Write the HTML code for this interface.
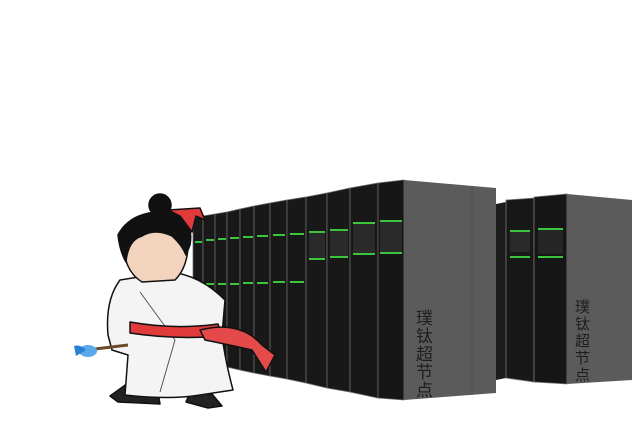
<!DOCTYPE html>
<html><head><meta charset="utf-8"><style>
html,body{margin:0;padding:0;background:#fff;}
svg{display:block}
</style></head><body>
<svg width="640" height="444" viewBox="0 0 640 444" xmlns="http://www.w3.org/2000/svg">
<rect width="640" height="444" fill="#fff"/>
<g>
<polygon points="496,204 506,202 506,378 496,380" fill="#1c1c1c"/>
<polygon points="506,200 534,198 534,382 506,378" fill="#181818" stroke="#777" stroke-width="0.8"/>
<rect x="510" y="230" width="20" height="2" fill="#3cc43c"/>
<rect x="510" y="232" width="20" height="20" fill="#2a2a2a"/>
<rect x="510" y="256" width="20" height="2" fill="#3cc43c"/>
<polygon points="534,197 567,194 567,384 534,382" fill="#161616" stroke="#777" stroke-width="0.8"/>
<rect x="538" y="228" width="25" height="2" fill="#3cc43c"/>
<rect x="538" y="230" width="25" height="24" fill="#262626"/>
<rect x="538" y="256" width="25" height="2" fill="#3cc43c"/>
<polygon points="567,194 632,200 632,380 567,384" fill="#5b5b5b"/>
<text font-family="'Liberation Sans','Noto Sans CJK SC',sans-serif" font-size="15" fill="#1e1e1e"><tspan x="575" y="312">璞</tspan><tspan x="575" y="329">钛</tspan><tspan x="575" y="346">超</tspan><tspan x="575" y="363">节</tspan><tspan x="575" y="380">点</tspan></text>
</g>
<g stroke="#6a6a6a" stroke-width="0.8">
<polygon points="193,218 203,216 203,362 193,360" fill="#181818"/>
<polygon points="203,216 215,214 215,365 203,362" fill="#181818"/>
<polygon points="215,214 227,212 227,367 215,365" fill="#181818"/>
<polygon points="227,212 240,209 240,370 227,367" fill="#181818"/>
<polygon points="240,209 254,206 254,373 240,370" fill="#181818"/>
<polygon points="254,206 270,203 270,376 254,373" fill="#181818"/>
<polygon points="270,203 287,200 287,379 270,376" fill="#181818"/>
<polygon points="287,200 306,197 306,383 287,379" fill="#181818"/>
<polygon points="306,197 327,193 327,388 306,383" fill="#181818"/>
<polygon points="327,193 350,188 350,392 327,388" fill="#181818"/>
<polygon points="350,188 378,183 378,398 350,392" fill="#181818"/>
<polygon points="378,183 404,180 404,400 378,398" fill="#161616"/>
</g>
<g fill="#3cc43c">
<rect x="195" y="241" width="7" height="2"/><rect x="195" y="284" width="7" height="2"/>
<rect x="206" y="239" width="8" height="2"/><rect x="206" y="283" width="8" height="2"/>
<rect x="218" y="238" width="8" height="2"/><rect x="218" y="283" width="8" height="2"/>
<rect x="230" y="237" width="9" height="2"/><rect x="230" y="283" width="9" height="2"/>
<rect x="243" y="236" width="10" height="2"/><rect x="243" y="282" width="10" height="2"/>
<rect x="257" y="235" width="11" height="2"/><rect x="257" y="282" width="11" height="2"/>
<rect x="273" y="234" width="12" height="2"/><rect x="273" y="281" width="12" height="2"/>
<rect x="290" y="233" width="14" height="2"/><rect x="290" y="281" width="14" height="2"/>
<rect x="309" y="231" width="16" height="2"/><rect x="309" y="258" width="16" height="2"/>
<rect x="330" y="229" width="18" height="2"/><rect x="330" y="256" width="18" height="2"/>
<rect x="353" y="222" width="22" height="2"/><rect x="353" y="253" width="22" height="2"/>
<rect x="380" y="220" width="22" height="2"/><rect x="380" y="252" width="22" height="2"/>
</g>
<g fill="#2a2a2a">
<rect x="309" y="233" width="16" height="25"/><rect x="330" y="231" width="18" height="25"/>
<rect x="353" y="224" width="22" height="29"/><rect x="380" y="222" width="22" height="30"/>
</g>
<polygon points="404,180 496,188 496,393 404,400" fill="#5b5b5b"/>
<line x1="472" y1="186" x2="472" y2="395" stroke="#525252" stroke-width="1"/>
<text font-family="'Liberation Sans','Noto Sans CJK SC',sans-serif" font-size="17" fill="#1e1e1e"><tspan x="416" y="324">璞</tspan><tspan x="416" y="342">钛</tspan><tspan x="416" y="360">超</tspan><tspan x="416" y="378">节</tspan><tspan x="416" y="396">点</tspan></text>
<g stroke="#111" stroke-width="1.5" stroke-linejoin="round">
<path d="M128,383 L110,396 L118,402 L160,404 L158,392 Z" fill="#222"/>
<path d="M190,392 L186,402 L208,408 L222,406 L212,394 Z" fill="#222"/>
<path d="M120,280 Q105,300 108,335 L112,350 L128,355 L125,395 Q170,400 200,395 L233,390 Q225,360 222,335 L225,300 Q200,275 170,272 Z" fill="#f4f4f4"/>
<path d="M140,292 L175,340 L160,392" fill="none" stroke="#555" stroke-width="1"/>
<path d="M130,322 Q175,330 218,324 L222,336 Q175,340 130,333 Z" fill="#e03a3a"/>
<path d="M200,330 Q240,320 262,345 L275,355 L266,372 L252,350 Q230,345 205,340 Z" fill="#e44a4a"/>
<path d="M178,215 Q130,215 124,250 Q126,272 142,282 L175,280 Q190,265 188,235 Z" fill="#f2d3bd"/>
<path d="M176,212 Q132,208 118,235 Q120,252 126,262 Q128,240 142,236 Q155,228 172,236 Q182,245 186,255 L190,245 Q194,222 176,212 Z" fill="#111"/>
<circle cx="160" cy="205" r="11" fill="#111"/>
<path d="M168,210 L200,208 L205,220 L196,216 L192,232 L180,216 Z" fill="#e03a3a"/>
<path d="M95,349 L128,345" stroke="#6b4a2a" stroke-width="3"/>
</g>
<ellipse cx="88" cy="351" rx="9" ry="6" fill="#5aa8e8"/>
<path d="M74,346 Q80,344 86,350 L76,356 Z" fill="#2a7fd4"/>
</svg>
</body></html>
